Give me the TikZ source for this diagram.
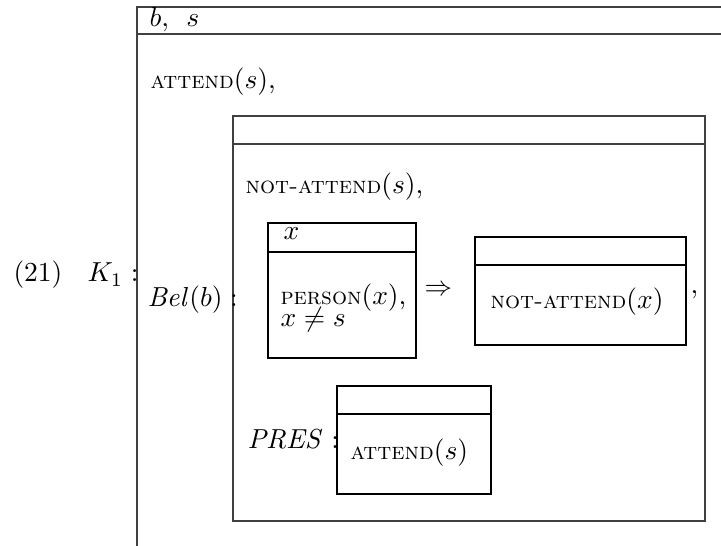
\documentclass[tikz,border=0pt]{standalone}
\usepackage{amsmath}
\newcommand\drspred[1]{{\fontsize{8.6pt}{10pt}\selectfont\textsc{#1}}}
\begin{document}
\begin{tikzpicture}[x=0.3636pt,y=-0.3636pt,
  txt/.style={inner sep=0pt, anchor=base west},
  outerline/.style={line width=0.5pt, draw=black!75},
  boxline/.style={line width=0.4pt, draw=black}]
\useasboundingbox (0,0) rectangle (721,546);
% outer DRS K1 (cropped)
\draw[outerline] (721,7) -- (137,7) -- (137,546);
\draw[outerline] (137,34) -- (721,34);
\node[txt] (ref) at (149,27) {$b,\hspace{4.7pt}s$};
\node[txt] (att) at (150,89) {\drspred{attend}$(s)$,};
\node[txt] (num) at (13,282) {(21)};
\node[txt] (k1) at (87,282) {$K_1:$};
% Bel box
\draw[outerline] (233,116) rectangle (705,521);
\draw[outerline] (233,144) -- (705,144);
\node[txt] (bel) at (147,307) {$\mathit{Bel}(b):$};
\node[txt] (notatt) at (245,194) {\drspred{not-attend}$(s)$,};
% PERSON box
\draw[boxline] (268,223) rectangle (416,358);
\draw[boxline] (268,252) -- (416,252);
\node[txt] (xref) at (283,240) {$x$};
\node[txt] (person) at (280,305) {\drspred{person}$(x)$,};
\node[txt] (neq) at (280,327) {$x\neq s$};
\node[txt] (impl) at (424,296) {$\Rightarrow$};
% NOT-ATTEND box
\draw[boxline] (475,237) rectangle (686,345);
\draw[boxline] (475,265) -- (686,265);
\node[txt] (notattx) at (490,309) {\drspred{not-attend}$(x)$};
\node[txt] (comma) at (690,294) {,};
% PRES box
\node[txt] (pres) at (247,449) {$\mathit{PRES}:$};
\draw[boxline] (337,386) rectangle (491,494);
\draw[boxline] (337,414) -- (491,414);
\node[txt] (attpres) at (350,460) {\drspred{attend}$(s)$};
\end{tikzpicture}
\end{document}
